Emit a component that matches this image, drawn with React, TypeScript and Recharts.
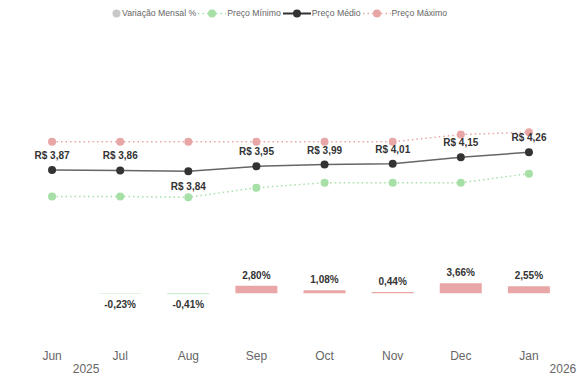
import { Bar, Cell, ComposedChart, LabelList, Line, XAxis, YAxis } from "recharts";

const months = ["Jun", "Jul", "Aug", "Sep", "Oct", "Nov", "Dec", "Jan"];
const years = ["2025", "", "", "", "", "", "", "2026"];
const precoMinimo = [3.29, 3.29, 3.27, 3.48, 3.59, 3.59, 3.59, 3.79];
const precoMedio = [3.87, 3.86, 3.84, 3.95, 3.99, 4.01, 4.15, 4.26];
const precoMaximo = [4.49, 4.49, 4.49, 4.49, 4.49, 4.49, 4.65, 4.7];
const variacao = [null, -0.23, -0.41, 2.8, 1.08, 0.44, 3.66, 2.55];

const data = months.map((m, i) => ({
  month: m,
  year: years[i],
  min: precoMinimo[i],
  med: precoMedio[i],
  max: precoMaximo[i],
  var: variacao[i],
}));

const FONT = "'Liberation Sans', Arial, sans-serif";
const PINK = "#e8a6a6";
const GREEN = "#a6e0a6";
const DARK = "#333333";
const lowest = Math.min(...precoMedio);

const brl = (v: number) => "R$ " + v.toFixed(2).replace(".", ",");
const pct = (v: number) => v.toFixed(2).replace(".", ",") + "%";

function PriceLabel(props: any) {
  const { x, y, value } = props;
  if (value == null) return null;
  const below = value === lowest;
  return (
    <text x={x} y={below ? y + 19 : y - 11} textAnchor="middle" fontSize={10} fontWeight="bold"
      fill={DARK} fontFamily={FONT}>
      {brl(value)}
    </text>
  );
}

function PctLabel(props: any) {
  const { x, y, width, height, value } = props;
  if (value == null) return null;
  const top = Math.min(y, y + height);
  const bottom = Math.max(y, y + height);
  return (
    <text x={x + width / 2} y={value >= 0 ? top - 7 : bottom + 14} textAnchor="middle" fontSize={10}
      fontWeight="bold" fill={DARK} fontFamily={FONT}>
      {pct(value)}
    </text>
  );
}

function MonthTick(props: any) {
  const { x, y, payload } = props;
  const yr = years[payload.index];
  return (
    <g fontFamily={FONT} fontSize={12} fill="#666">
      <text x={x} y={y + 12} textAnchor="middle">{payload.value}</text>
      {yr && <text x={x + 34} y={y + 25} textAnchor="middle">{yr}</text>}
    </g>
  );
}

function LegendIcon({ color, dotted, line }: { color: string; dotted?: boolean; line?: boolean }) {
  if (!line) {
    return (
      <svg width={9} height={9} style={{ marginRight: 1 }}>
        <circle cx={4.5} cy={4.5} r={4} fill={color} />
      </svg>
    );
  }
  return (
    <svg width={28} height={9} style={{ marginRight: 1 }}>
      <line x1={0} y1={4.5} x2={28} y2={4.5} stroke={color} strokeWidth={dotted ? 1.5 : 2}
        strokeDasharray={dotted ? "1.5 3" : undefined} />
      <circle cx={14} cy={4.5} r={4} fill={color} />
    </svg>
  );
}

const legendItems = [
  { name: "Variação Mensal %", color: "#c8c8c8", line: false, dotted: false },
  { name: "Preço Mínimo", color: GREEN, line: true, dotted: true },
  { name: "Preço Médio", color: DARK, line: true, dotted: false },
  { name: "Preço Máximo", color: PINK, line: true, dotted: true },
];

export default function App() {
  return (
    <div style={{ position: "absolute", top: 0, left: 0, width: 577, height: 379, background: "#fff" }}>
      <div style={{ position: "absolute", top: 8, left: 112, display: "flex", alignItems: "center",
        fontFamily: FONT, fontSize: 8.7, color: "#666", whiteSpace: "nowrap" }}>
        {legendItems.map((it) => (
          <div key={it.name} style={{ display: "flex", alignItems: "center", marginRight: 2 }}>
            <LegendIcon color={it.color} line={it.line} dotted={it.dotted} />
            <span>{it.name}</span>
          </div>
        ))}
      </div>
      <ComposedChart width={577} height={379} data={data} style={{ overflow: "visible" }}
        margin={{ top: 40, right: 14, bottom: 9, left: 18 }}>
        <XAxis dataKey="month" tickLine={false} axisLine={false} height={30} tick={<MonthTick />} interval={0} />
        <YAxis yAxisId="price" hide type="number" domain={[0.134, 6.727]} allowDataOverflow />
        <YAxis yAxisId="pct" hide type="number" domain={[-17.33, 93.78]} allowDataOverflow />
        <Bar yAxisId="pct" dataKey="var" barSize={42} isAnimationActive={false}>
          {data.map((d, i) => (
            <Cell key={i} fill={(d.var ?? 0) >= 0 ? PINK : "#c2eac2"} />
          ))}
          <LabelList dataKey="var" content={<PctLabel />} />
        </Bar>
        <Line yAxisId="price" dataKey="max" stroke={PINK} strokeWidth={1.5} strokeDasharray="1.5 3"
          dot={{ r: 4, fill: PINK, stroke: PINK, strokeWidth: 0 }} isAnimationActive={false} />
        <Line yAxisId="price" dataKey="min" stroke={GREEN} strokeWidth={1.5} strokeDasharray="1.5 3"
          dot={{ r: 4, fill: GREEN, stroke: GREEN, strokeWidth: 0 }} isAnimationActive={false} />
        <Line yAxisId="price" dataKey="med" stroke="#666" strokeWidth={1.5}
          dot={{ r: 4, fill: DARK, stroke: DARK, strokeWidth: 0 }} isAnimationActive={false}>
          <LabelList dataKey="med" content={<PriceLabel />} />
        </Line>
      </ComposedChart>
    </div>
  );
}
